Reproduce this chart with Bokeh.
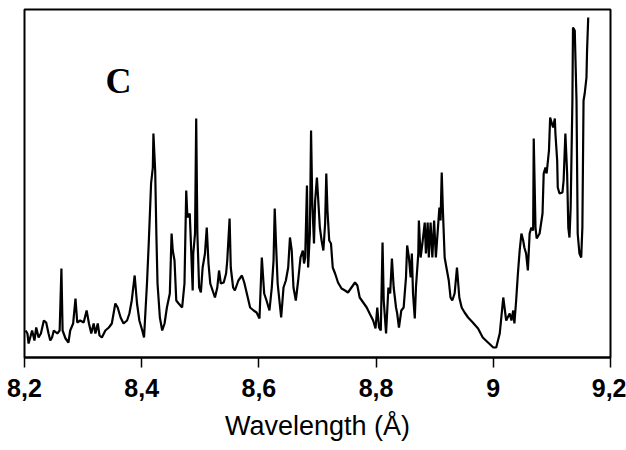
from bokeh.plotting import figure
from bokeh.models import Range1d, FixedTicker, Label, Title
from bokeh.embed import file_html
from bokeh.resources import INLINE

# Spectrum (wavelength in Angstrom, intensity in arbitrary units)
wavelength = [
    8.202, 8.205, 8.207, 8.213, 8.217, 8.220, 8.224, 8.228, 8.233, 8.237,
    8.241, 8.244, 8.247, 8.250, 8.256, 8.260, 8.263, 8.265, 8.270, 8.275,
    8.278, 8.283, 8.287, 8.290, 8.295, 8.301, 8.306, 8.310, 8.314, 8.318,
    8.321, 8.325, 8.328, 8.332, 8.338, 8.344, 8.349, 8.355, 8.359, 8.364,
    8.369, 8.375, 8.379, 8.383, 8.388, 8.392, 8.396, 8.401, 8.404,
    8.409, 8.412, 8.416, 8.419, 8.420, 8.423, 8.425, 8.427, 8.431, 8.435,
    8.439, 8.443, 8.448, 8.451, 8.453, 8.456, 8.459, 8.463, 8.469, 8.473,
    8.476, 8.478, 8.482, 8.484, 8.487, 8.488, 8.491, 8.493, 8.495, 8.498,
    8.501, 8.504, 8.508, 8.511, 8.514, 8.517, 8.521, 8.525, 8.529, 8.532,
    8.535, 8.540, 8.544, 8.546, 8.550, 8.552, 8.556, 8.559, 8.565, 8.571,
    8.575, 8.579, 8.585, 8.591, 8.596, 8.601, 8.605,
    8.609, 8.613, 8.618, 8.622, 8.625, 8.627, 8.629, 8.632, 8.635, 8.638,
    8.642, 8.646, 8.650, 8.653, 8.656, 8.659, 8.663, 8.667, 8.671, 8.675,
    8.677, 8.679, 8.682, 8.684, 8.687, 8.689, 8.691, 8.694, 8.696, 8.699,
    8.701, 8.704, 8.707, 8.710, 8.713, 8.715, 8.717, 8.720, 8.723, 8.726,
    8.730, 8.735, 8.741, 8.747, 8.752, 8.758, 8.764, 8.768, 8.772, 8.778,
    8.784, 8.789, 8.795, 8.799, 8.802, 8.805, 8.808, 8.811,
    8.813, 8.817, 8.821, 8.824, 8.827, 8.830, 8.834, 8.836, 8.839, 8.843,
    8.847, 8.851, 8.853, 8.856, 8.859, 8.861, 8.863, 8.866, 8.868, 8.872,
    8.873, 8.876, 8.879, 8.883, 8.885, 8.888, 8.890, 8.893, 8.896, 8.899,
    8.902, 8.904, 8.908, 8.910, 8.912, 8.914, 8.917, 8.920, 8.924, 8.927,
    8.930, 8.934, 8.938, 8.942, 8.946, 8.951, 8.957, 8.965, 8.974, 8.982,
    8.991, 9.000, 9.005, 9.011, 9.017,
    9.022, 9.028, 9.031, 9.034, 9.036, 9.039, 9.042, 9.045, 9.048, 9.051,
    9.053, 9.056, 9.059, 9.062, 9.065, 9.068, 9.069, 9.072, 9.074, 9.079,
    9.084, 9.086, 9.089, 9.091, 9.095, 9.097, 9.102, 9.105, 9.106, 9.109,
    9.110, 9.113, 9.118, 9.120, 9.123, 9.126, 9.128, 9.130, 9.132, 9.135,
    9.136, 9.139, 9.142, 9.144, 9.147, 9.150, 9.152, 9.154, 9.156, 9.159,
    9.160, 9.162,
]
intensity = [
    27, 24, 14, 27, 17, 30, 20, 24, 37, 35,
    24, 17, 20, 27, 24, 27, 89, 27, 19, 15,
    27, 34, 59, 35, 37, 35, 47, 34, 24, 34,
    24, 34, 22, 20, 27, 30, 34, 54, 50, 40,
    34, 37, 44, 57, 82, 54, 37, 27, 20,
    74, 114, 174, 190, 224, 187, 124, 74, 40, 27,
    34, 50, 64, 124, 107, 97, 57, 54, 50, 74,
    167, 140, 144, 114, 67, 104, 124, 239, 124, 70,
    65, 90, 104, 130, 94, 74, 67, 60, 70, 87,
    74, 75, 84, 97, 139, 90, 70, 67, 77, 82,
    75, 65, 50, 47, 45, 39, 100,
    64, 57, 47, 70, 97, 149, 117, 74, 57, 40,
    70, 77, 90, 120, 107, 70, 57, 77, 100, 107,
    94, 100, 172, 90, 124, 227, 157, 114, 157, 180,
    160, 130, 117, 107, 134, 184, 147, 117, 114, 90,
    84, 75, 69, 67, 65, 70, 75, 72, 60, 55,
    50, 44, 37, 29, 50, 30, 27, 115,
    57, 24, 70, 64, 99, 70, 50, 44, 30, 47,
    50, 80, 112, 100, 80, 104, 64, 39, 70, 104,
    137, 100, 114, 135, 104, 135, 100, 135, 100, 137,
    100, 117, 150, 137, 185, 147, 100, 90, 77, 60,
    57, 64, 90, 60, 50, 45, 40, 35, 29, 20,
    15, 10, 10, 24, 60,
    37, 44, 37, 47, 34, 57, 84, 107, 124, 117,
    110, 104, 87, 124, 130, 127, 219, 130, 119, 124,
    144, 184, 190, 184, 207, 240, 230, 239, 224, 197,
    170, 164, 165, 177, 224, 184, 130, 120, 150, 257,
    330, 327, 257, 124, 104, 100, 130, 257, 264, 280,
    307, 340,
]

tick_values = [8.2, 8.4, 8.6, 8.8, 9.0, 9.2]
tick_labels = ["8,2", "8,4", "8,6", "8,8", "9", "9,2"]
x_title = "Wavelength (Å)"
panel_letter = "C"

p = figure(width=626, height=450, output_backend="svg", toolbar_location=None,
           x_range=Range1d(8.2, 9.2), y_range=Range1d(0, 348),
           min_border_left=24, min_border_right=16, min_border_top=9,
           min_border_bottom=93)
p.background_fill_color = "white"
p.border_fill_color = "white"
p.outline_line_color = "black"
p.outline_line_width = 2
p.grid.visible = False
p.yaxis.visible = False

ax = p.xaxis[0]
ax.ticker = FixedTicker(ticks=tick_values)
ax.major_label_overrides = {v: l for v, l in zip(tick_values, tick_labels)}
ax.minor_tick_line_color = None
ax.major_tick_in = 0
ax.major_tick_out = 10
ax.major_tick_line_width = 1.5
ax.axis_line_width = 2
ax.major_label_standoff = 11
ax.major_label_text_font = "Liberation Sans"
ax.major_label_text_font_style = "bold"
ax.major_label_text_font_size = "25px"
ax.major_label_text_color = "black"

p.line(wavelength, intensity, line_color="black", line_width=2.2)

p.add_layout(Title(text=x_title, align="center", offset=-41, standoff=18,
                   text_font="Liberation Sans", text_font_style="normal",
                   text_font_size="27px", text_color="black"), "below")

# Panel letter, in screen px relative to the plot frame (origin bottom-left)
p.add_layout(Label(x=94, y=277, x_units="screen", y_units="screen",
                   text=panel_letter, text_align="center",
                   text_baseline="alphabetic", text_font="Liberation Serif",
                   text_font_style="bold", text_font_size="36px",
                   text_color="black"))

open("out.html", "w").write(file_html(p, INLINE))
